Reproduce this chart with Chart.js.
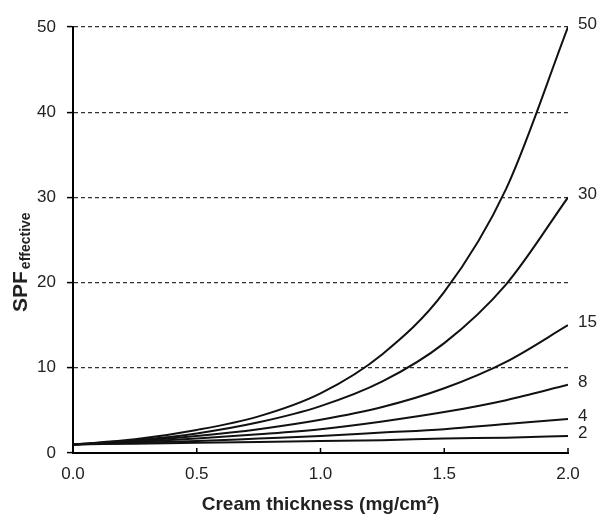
<!DOCTYPE html>
<html>
<head>
<meta charset="utf-8">
<script src="https://cdn.jsdelivr.net/npm/chart.js@4.4.1/dist/chart.umd.min.js"></script>
<style>
  html, body { margin: 0; padding: 0; background: #fff; }
  #wrap { width: 600px; height: 515px; position: relative; }
</style>
</head>
<body>
<div id="wrap"><canvas id="spfChart"></canvas></div>
<script>
// cream thickness (mg/cm2) and effective SPF
const thickness = [0, 0.25, 0.5, 0.75, 1.0, 1.25, 1.5, 1.75, 2.0];
const spfLabels = ['50', '30', '15', '8', '4', '2'];
const spf50 = [1, 1.6, 2.7, 4.3, 7.0, 11.6, 18.9, 31.0, 50];
const spf30 = [1, 1.5, 2.3, 3.6, 5.5, 8.4, 12.9, 19.8, 30];
const spf15 = [1, 1.4, 2.0, 2.8, 3.9, 5.4, 7.6, 10.7, 15];
const spf8 = [1, 1.3, 1.7, 2.2, 2.8, 3.7, 4.8, 6.2, 8];
const spf4 = [1, 1.2, 1.4, 1.7, 2.0, 2.4, 2.8, 3.4, 4];
const spf2 = [1, 1.1, 1.2, 1.3, 1.4, 1.5, 1.7, 1.8, 2];
const xTicks = [0, 0.5, 1.0, 1.5, 2.0];
const yTicks = [0, 10, 20, 30, 40, 50];

const FONT = '"Liberation Sans", Arial, sans-serif';
const series = [spf50, spf30, spf15, spf8, spf4, spf2];

const datasets = series.map(function (vals, i) {
    return {
        label: spfLabels[i],
        data: vals.map(function (v, j) { return { x: thickness[j], y: v }; }),
        borderColor: '#111',
        borderWidth: 2,
        pointRadius: 0,
        fill: false,
        cubicInterpolationMode: 'monotone'
    };
});

// curve names at the right end, upward x ticks, axis titles
const labelsPlugin = {
    id: 'spfLabels',
    afterDraw: function (chart) {
        const ctx = chart.ctx;
        const area = chart.chartArea;
        const xs = chart.scales.x;
        ctx.save();

        // small ticks pointing up from the x axis
        ctx.strokeStyle = '#000';
        ctx.lineWidth = 1.5;
        xTicks.forEach(function (v) {
            if (v === 0) return;
            const px = xs.getPixelForValue(v);
            ctx.beginPath();
            ctx.moveTo(px, area.bottom);
            ctx.lineTo(px, area.bottom - 5);
            ctx.stroke();
        });

        ctx.fillStyle = '#222';
        ctx.font = '17px ' + FONT;
        ctx.textAlign = 'left';
        ctx.textBaseline = 'middle';
        chart.data.datasets.forEach(function (ds, i) {
            const pts = chart.getDatasetMeta(i).data;
            const p = pts[pts.length - 1];
            ctx.fillText(ds.label, p.x + 10, p.y - 3);
        });

        // x title
        ctx.textAlign = 'center';
        ctx.font = 'bold 19px ' + FONT;
        ctx.fillText('Cream thickness (mg/cm\u00B2)', (area.left + area.right) / 2, 505);

        // y title with subscript
        ctx.translate(27, 312);
        ctx.rotate(-Math.PI / 2);
        ctx.textAlign = 'left';
        ctx.textBaseline = 'alphabetic';
        ctx.font = 'bold 21px ' + FONT;
        ctx.fillText('SPF', 0, 0);
        const w = ctx.measureText('SPF').width;
        ctx.font = 'bold 14px ' + FONT;
        ctx.fillText('effective', w + 2, 3);
        ctx.restore();
    }
};

new Chart(document.getElementById('spfChart'), {
    type: 'line',
    data: { datasets: datasets },
    options: {
        responsive: true,
        maintainAspectRatio: false,
        animation: false,
        layout: { padding: { top: 27, right: 32, bottom: 0, left: 0 } },
        plugins: {
            legend: { display: false },
            tooltip: { enabled: false }
        },
        scales: {
            x: {
                type: 'linear',
                min: 0,
                max: 2,
                afterFit: function (scale) { scale.height = 62; },
                afterBuildTicks: function (scale) {
                    scale.ticks = xTicks.map(function (v) { return { value: v }; });
                },
                ticks: {
                    color: '#222',
                    font: { family: FONT, size: 17 },
                    padding: 11,
                    maxRotation: 0,
                    callback: function (v) { return Number(v).toFixed(1); }
                },
                grid: {
                    drawOnChartArea: false,
                    drawTicks: false
                },
                border: { color: '#000', width: 2 }
            },
            y: {
                min: 0,
                max: 50,
                afterFit: function (scale) { scale.width = 73; },
                afterBuildTicks: function (scale) {
                    scale.ticks = yTicks.map(function (v) { return { value: v }; });
                },
                ticks: {
                    color: '#222',
                    font: { family: FONT, size: 17 },
                    padding: 11
                },
                grid: {
                    color: function (c) {
                        return c.tick && c.tick.value === 0 ? 'rgba(0,0,0,0)' : '#333';
                    },
                    lineWidth: 1.2,
                    tickLength: 6,
                    tickColor: '#000',
                    tickWidth: 1.5
                },
                border: { color: '#000', width: 2, dash: [4, 3] }
            }
        }
    },
    plugins: [labelsPlugin]
});
</script>
</body>
</html>
